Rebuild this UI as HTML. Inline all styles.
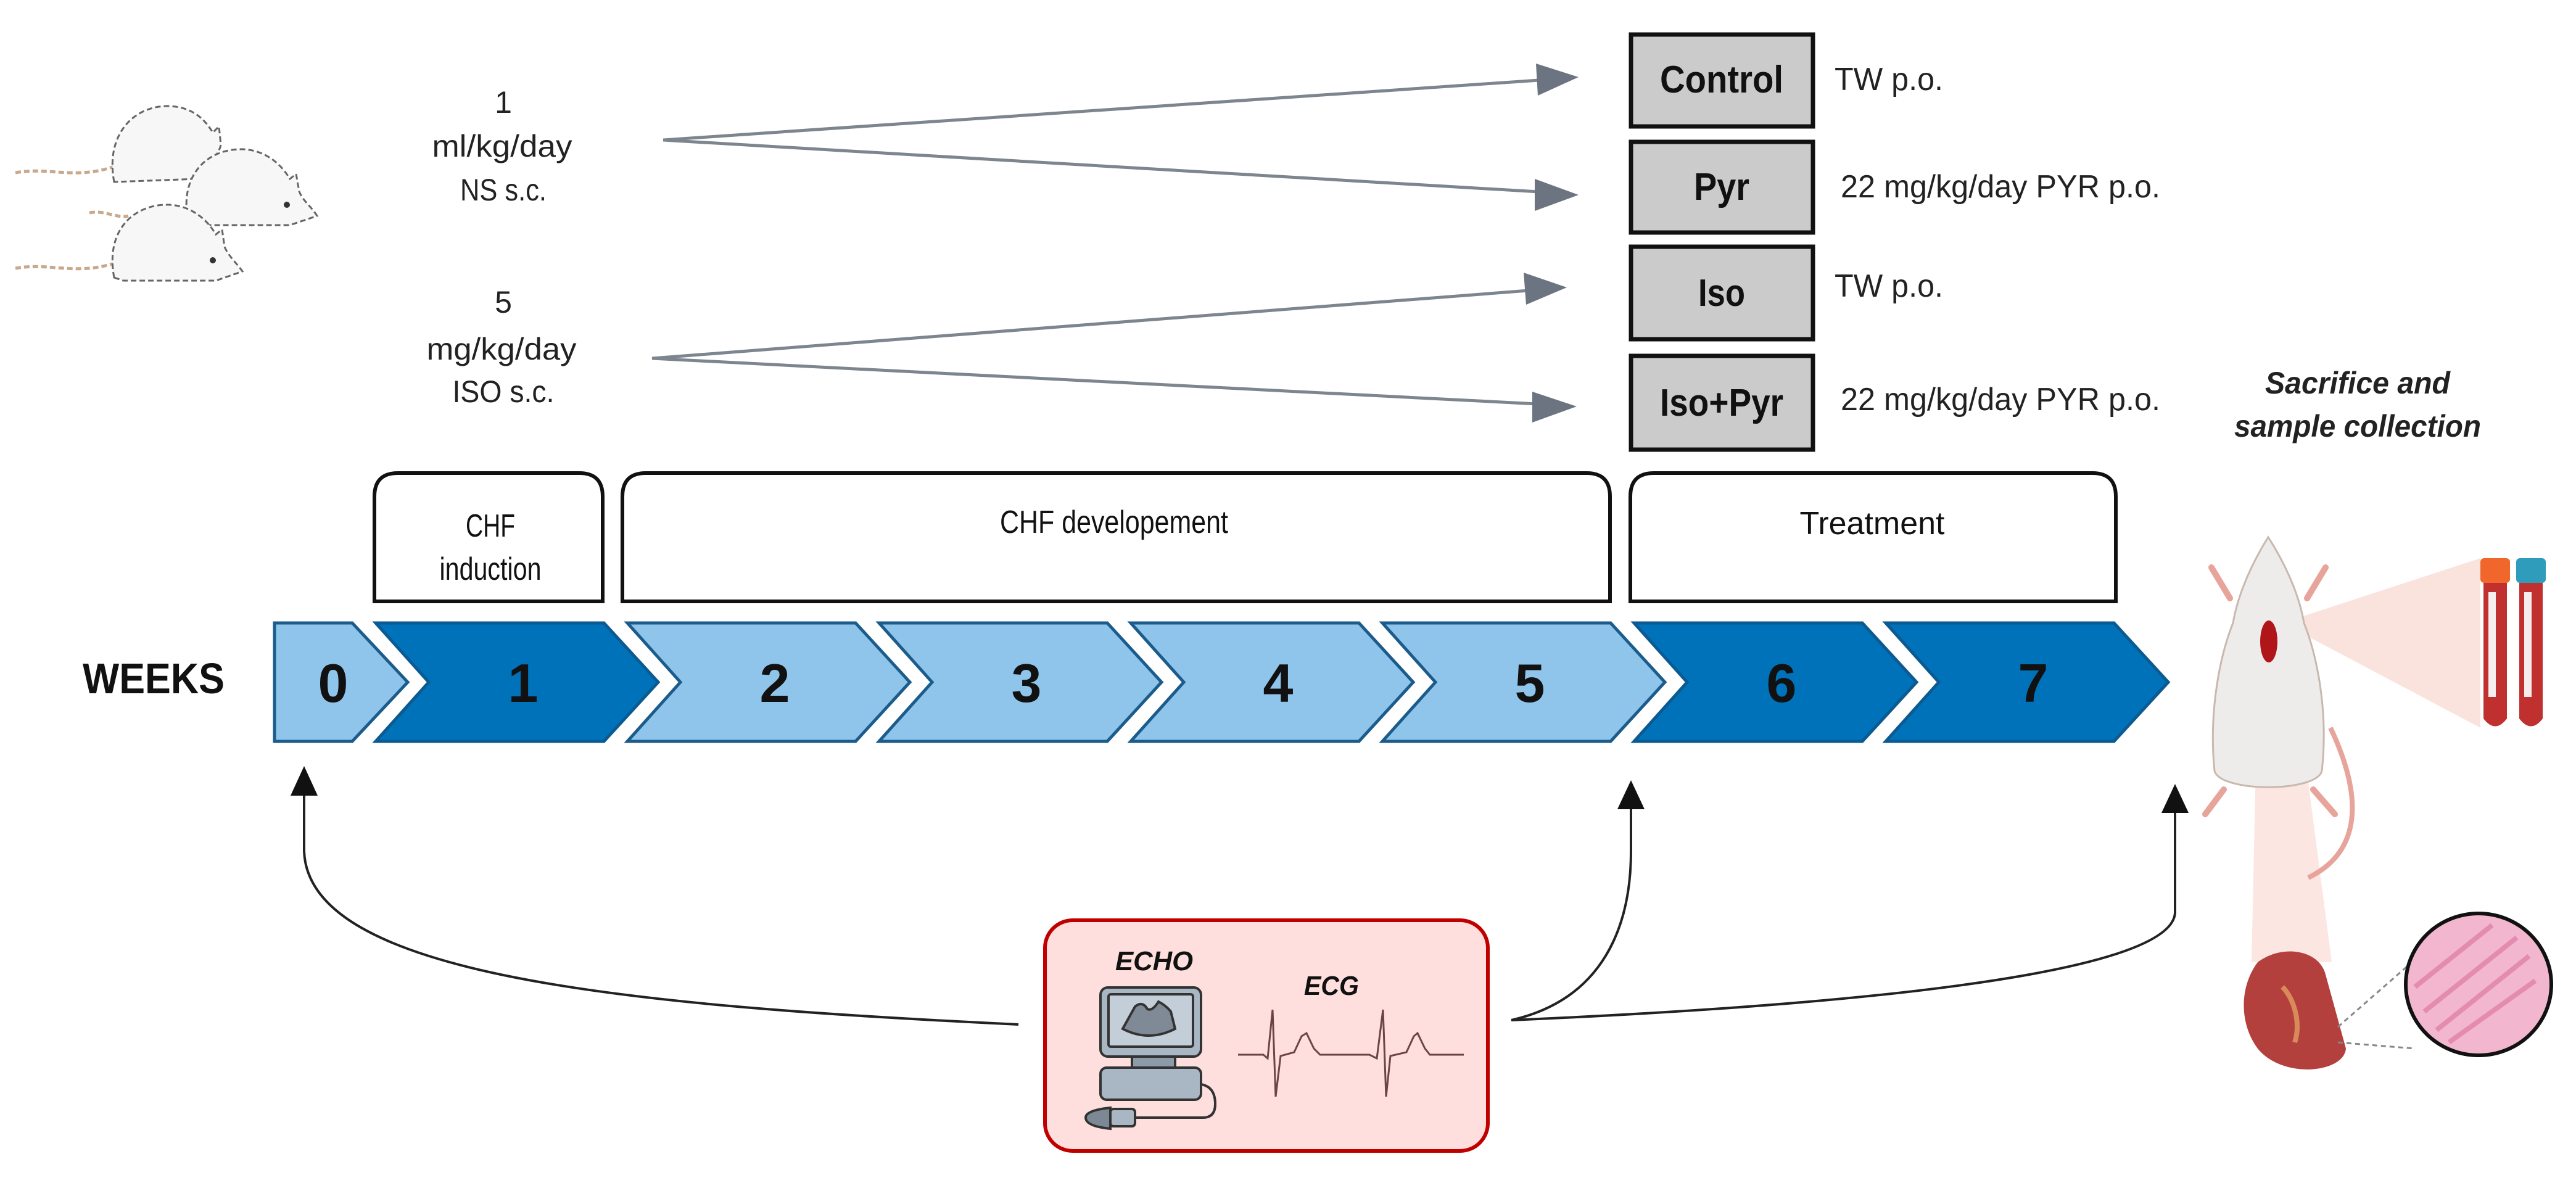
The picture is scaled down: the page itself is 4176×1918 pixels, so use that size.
<!DOCTYPE html>
<html><head><meta charset="utf-8"><style>
html,body{margin:0;padding:0;background:#fff}
svg{display:block}
text{font-family:"Liberation Sans",sans-serif}
</style></head><body>
<svg width="4176" height="1918" viewBox="0 0 4176 1918" xmlns="http://www.w3.org/2000/svg">
<rect width="4176" height="1918" fill="#fff"/>

<!-- rats -->
<g stroke="#666" stroke-width="3" stroke-dasharray="9 5">
  <path d="M25,280 C80,270 120,292 185,270" fill="none" stroke="#c9a88c" stroke-width="5"/>
  <path d="M185,295 C170,215 220,170 275,172 C310,174 330,190 345,215 L355,205 L358,235 C355,250 340,265 320,290 Z" fill="#f7f7f7"/>
  <path d="M145,345 C170,340 190,355 208,350" fill="none" stroke="#c9a88c" stroke-width="5"/>
  <path d="M305,360 C290,285 335,240 395,242 C430,244 455,265 470,290 L480,282 L485,310 C490,325 505,335 514,350 L470,365 L330,365 Z" fill="#f7f7f7"/>
  <path d="M25,435 C80,425 120,447 185,427" fill="none" stroke="#c9a88c" stroke-width="5"/>
  <path d="M185,450 C170,370 220,330 275,332 C310,334 335,355 350,380 L360,372 L364,400 C370,415 385,428 393,440 L350,455 L200,455 Z" fill="#f7f7f7"/>
</g>
<g fill="#333"><circle cx="465" cy="332" r="5"/><circle cx="345" cy="422" r="5"/></g>

<!-- left dose text -->
<g font-size="50" fill="#222" text-anchor="middle">
  <text x="816" y="183">1</text>
  <text x="814" y="254" textLength="227" lengthAdjust="spacingAndGlyphs">ml/kg/day</text>
  <text x="816" y="325" textLength="140" lengthAdjust="spacingAndGlyphs">NS s.c.</text>
  <text x="816" y="507">5</text>
  <text x="813" y="583" textLength="243" lengthAdjust="spacingAndGlyphs">mg/kg/day</text>
  <text x="816" y="652" textLength="165" lengthAdjust="spacingAndGlyphs">ISO s.c.</text>
</g>

<!-- gray arrows -->
<g stroke="#7d858f" stroke-width="5" fill="none">
  <line x1="1075" y1="227" x2="2495" y2="130"/>
  <line x1="1075" y1="227" x2="2495" y2="311"/>
  <line x1="1057" y1="581" x2="2478" y2="471"/>
  <line x1="1057" y1="581" x2="2493" y2="655"/>
</g>
<g fill="#6b7480">
  <polygon points="2559,125 2490,103 2493,155"/>
  <polygon points="2559,316 2488,290 2488,342"/>
  <polygon points="2540,466 2470,442 2474,494"/>
  <polygon points="2556,659 2484,635 2484,685"/>
</g>

<!-- group boxes -->
<g fill="#cbcbcb" stroke="#111" stroke-width="7">
  <rect x="2644" y="56" width="295" height="149"/>
  <rect x="2644" y="230" width="295" height="147"/>
  <rect x="2644" y="400" width="295" height="150"/>
  <rect x="2644" y="577" width="295" height="152"/>
</g>
<g font-size="62" font-weight="bold" fill="#111" text-anchor="middle">
  <text x="2791" y="150" textLength="200" lengthAdjust="spacingAndGlyphs">Control</text>
  <text x="2791" y="324" textLength="90" lengthAdjust="spacingAndGlyphs">Pyr</text>
  <text x="2791" y="496" textLength="76" lengthAdjust="spacingAndGlyphs">Iso</text>
  <text x="2791" y="674" textLength="200" lengthAdjust="spacingAndGlyphs">Iso+Pyr</text>
</g>
<g font-size="52" fill="#222">
  <text x="2974" y="146" textLength="176" lengthAdjust="spacingAndGlyphs">TW p.o.</text>
  <text x="2984" y="320" textLength="518" lengthAdjust="spacingAndGlyphs">22 mg/kg/day  PYR p.o.</text>
  <text x="2974" y="481" textLength="176" lengthAdjust="spacingAndGlyphs">TW p.o.</text>
  <text x="2984" y="665" textLength="518" lengthAdjust="spacingAndGlyphs">22 mg/kg/day  PYR p.o.</text>
</g>

<!-- sacrifice text -->
<g font-size="50" font-weight="bold" font-style="italic" fill="#222" text-anchor="middle">
  <text x="3822" y="638" textLength="300" lengthAdjust="spacingAndGlyphs">Sacrifice and</text>
  <text x="3822" y="708" textLength="400" lengthAdjust="spacingAndGlyphs">sample collection</text>
</g>

<!-- phase boxes -->
<g fill="#fff" stroke="#111" stroke-width="6">
  <path d="M607,975 V805 Q607,767 645,767 H939 Q977,767 977,805 V975 Z"/>
  <path d="M1009,975 V805 Q1009,767 1047,767 H2572 Q2610,767 2610,805 V975 Z"/>
  <path d="M2643,975 V805 Q2643,767 2681,767 H3392 Q3430,767 3430,805 V975 Z"/>
</g>
<g font-size="52" fill="#111" text-anchor="middle">
  <text x="795" y="870" textLength="80" lengthAdjust="spacingAndGlyphs">CHF</text>
  <text x="795" y="940" textLength="165" lengthAdjust="spacingAndGlyphs">induction</text>
  <text x="1806" y="864" textLength="370" lengthAdjust="spacingAndGlyphs">CHF developement</text>
  <text x="3035" y="866" textLength="235" lengthAdjust="spacingAndGlyphs">Treatment</text>
</g>

<!-- WEEKS -->
<text x="134" y="1124" font-size="70" font-weight="bold" fill="#111" textLength="230" lengthAdjust="spacingAndGlyphs">WEEKS</text>

<!-- chevrons -->
<g stroke-width="5" stroke-linejoin="miter">
  <polygon points="445,1010 571,1010 661,1106 571,1202 445,1202" fill="#8fc5ea" stroke="#1b5c8c"/>
  <polygon points="609,1010 979,1010 1067,1106 979,1202 609,1202 695,1106" fill="#0072b9" stroke="#0b5a91"/>
  <polygon points="1017,1010 1387,1010 1475,1106 1387,1202 1017,1202 1103,1106" fill="#8fc5ea" stroke="#1b5c8c"/>
  <polygon points="1425,1010 1795,1010 1883,1106 1795,1202 1425,1202 1511,1106" fill="#8fc5ea" stroke="#1b5c8c"/>
  <polygon points="1833,1010 2203,1010 2291,1106 2203,1202 1833,1202 1919,1106" fill="#8fc5ea" stroke="#1b5c8c"/>
  <polygon points="2241,1010 2611,1010 2699,1106 2611,1202 2241,1202 2327,1106" fill="#8fc5ea" stroke="#1b5c8c"/>
  <polygon points="2649,1010 3019,1010 3107,1106 3019,1202 2649,1202 2735,1106" fill="#0072b9" stroke="#0b5a91"/>
  <polygon points="3057,1010 3427,1010 3515,1106 3427,1202 3057,1202 3143,1106" fill="#0072b9" stroke="#0b5a91"/>
</g>
<g font-size="88" font-weight="bold" fill="#111" text-anchor="middle">
  <text x="540" y="1138">0</text>
  <text x="848" y="1138">1</text>
  <text x="1256" y="1138">2</text>
  <text x="1664" y="1138">3</text>
  <text x="2072" y="1138">4</text>
  <text x="2480" y="1138">5</text>
  <text x="2888" y="1138">6</text>
  <text x="3296" y="1138">7</text>
</g>

<!-- black connectors -->
<g stroke="#222" stroke-width="4" fill="none">
  <path d="M1651,1661 C1000,1630 500,1580 493,1380 L493,1288"/>
  <path d="M2450,1654 C2600,1620 2644,1500 2644,1380 L2644,1310"/>
  <path d="M2450,1654 C3000,1630 3520,1580 3526,1480 L3526,1316"/>
</g>
<g fill="#111">
  <polygon points="493,1242 471,1290 515,1290"/>
  <polygon points="2644,1265 2622,1312 2666,1312"/>
  <polygon points="3526,1271 3504,1318 3548,1318"/>
</g>

<!-- ECHO/ECG box -->
<rect x="1694" y="1492" width="718" height="374" rx="45" fill="#ffdede" stroke="#c00000" stroke-width="6"/>
<g font-size="44" font-weight="bold" font-style="italic" fill="#111">
  <text x="1808" y="1573" textLength="126" lengthAdjust="spacingAndGlyphs">ECHO</text>
  <text x="2114" y="1613" textLength="89" lengthAdjust="spacingAndGlyphs">ECG</text>
</g>
<g stroke="#333" stroke-width="4">
  <rect x="1784" y="1601" width="163" height="112" rx="12" fill="#a9b7c4"/>
  <rect x="1797" y="1612" width="137" height="85" rx="4" fill="#c4ced8"/>
  <path d="M1820,1668 L1840,1632 Q1852,1622 1860,1636 Q1868,1640 1878,1624 Q1890,1630 1898,1640 L1905,1668 Q1862,1690 1820,1668 Z" fill="#808a96"/>
  <rect x="1835" y="1713" width="70" height="18" fill="#8d9aa8"/>
  <rect x="1784" y="1731" width="163" height="52" rx="10" fill="#a9b7c4"/>
  <path d="M1947,1758 Q1970,1762 1970,1790 Q1970,1812 1950,1812 L1840,1812" fill="none"/>
  <rect x="1800" y="1798" width="40" height="28" rx="5" fill="#a9b7c4"/>
  <path d="M1800,1796 Q1760,1800 1760,1812 Q1760,1826 1800,1830 Z" fill="#7c8894"/>
</g>
<path d="M2007,1710 L2048,1710 L2055,1716 L2063,1637 L2068,1778 L2076,1712 L2098,1706 L2110,1680 L2118,1675 L2130,1700 L2140,1710 L2220,1710 L2232,1716 L2242,1637 L2247,1778 L2254,1712 L2280,1706 L2292,1680 L2298,1675 L2310,1700 L2318,1710 L2373,1710" fill="none" stroke="#6b4545" stroke-width="3"/>

<!-- right illustration -->
<polygon points="3700,1010 4021,905 4021,1180" fill="#fbe3dd"/>
<polygon points="3660,1100 3720,1100 3780,1560 3650,1560" fill="#fce6e1"/>
<g>
  <path d="M3590,1250 C3580,1150 3600,1060 3620,1010 C3625,980 3640,930 3677,871 C3715,930 3730,980 3735,1010 C3755,1060 3775,1150 3764,1250 C3755,1285 3600,1285 3590,1250 Z" fill="#eeeceb" stroke="#c8b8ae" stroke-width="3"/>
  <path d="M3615,970 L3585,920 M3740,970 L3770,920 M3605,1280 L3575,1320 M3750,1280 L3785,1320" stroke="#e7a49a" stroke-width="10" stroke-linecap="round"/>
  <path d="M3778,1180 C3830,1290 3830,1380 3742,1423" fill="none" stroke="#e7a49a" stroke-width="8"/>
  <ellipse cx="3678" cy="1040" rx="14" ry="34" fill="#b0151a"/>
  <rect x="4021" y="905" width="48" height="40" rx="6" fill="#f0662b"/>
  <rect x="4079" y="905" width="48" height="40" rx="6" fill="#2f9cbb"/>
  <path d="M4026,945 V1165 Q4045,1190 4064,1165 V945 Z M4084,945 V1165 Q4103,1190 4122,1165 V945 Z" fill="#c0302f"/>
  <rect x="4034" y="960" width="12" height="170" fill="#f6eeee"/>
  <rect x="4092" y="960" width="12" height="170" fill="#f6eeee"/>
  <path d="M3660,1560 C3700,1530 3760,1540 3770,1580 L3803,1700 C3800,1740 3700,1750 3660,1700 C3630,1660 3630,1600 3660,1560 Z" fill="#b4403e"/>
  <path d="M3700,1600 C3720,1620 3730,1660 3720,1690" stroke="#d98a5a" stroke-width="8" fill="none"/>
  <path d="M3790,1665 L3910,1560 M3790,1690 L3915,1700" stroke="#888" stroke-width="3" stroke-dasharray="8 6"/>
  <ellipse cx="4018" cy="1596" rx="118" ry="115" fill="#f2b7cf" stroke="#111" stroke-width="6"/>
  <path d="M3930,1640 L4080,1520 M3950,1670 L4100,1550 M3970,1690 L4110,1590 M3915,1600 L4040,1500" stroke="#e38cb0" stroke-width="8"/>
</g>
</svg>
</body></html>
